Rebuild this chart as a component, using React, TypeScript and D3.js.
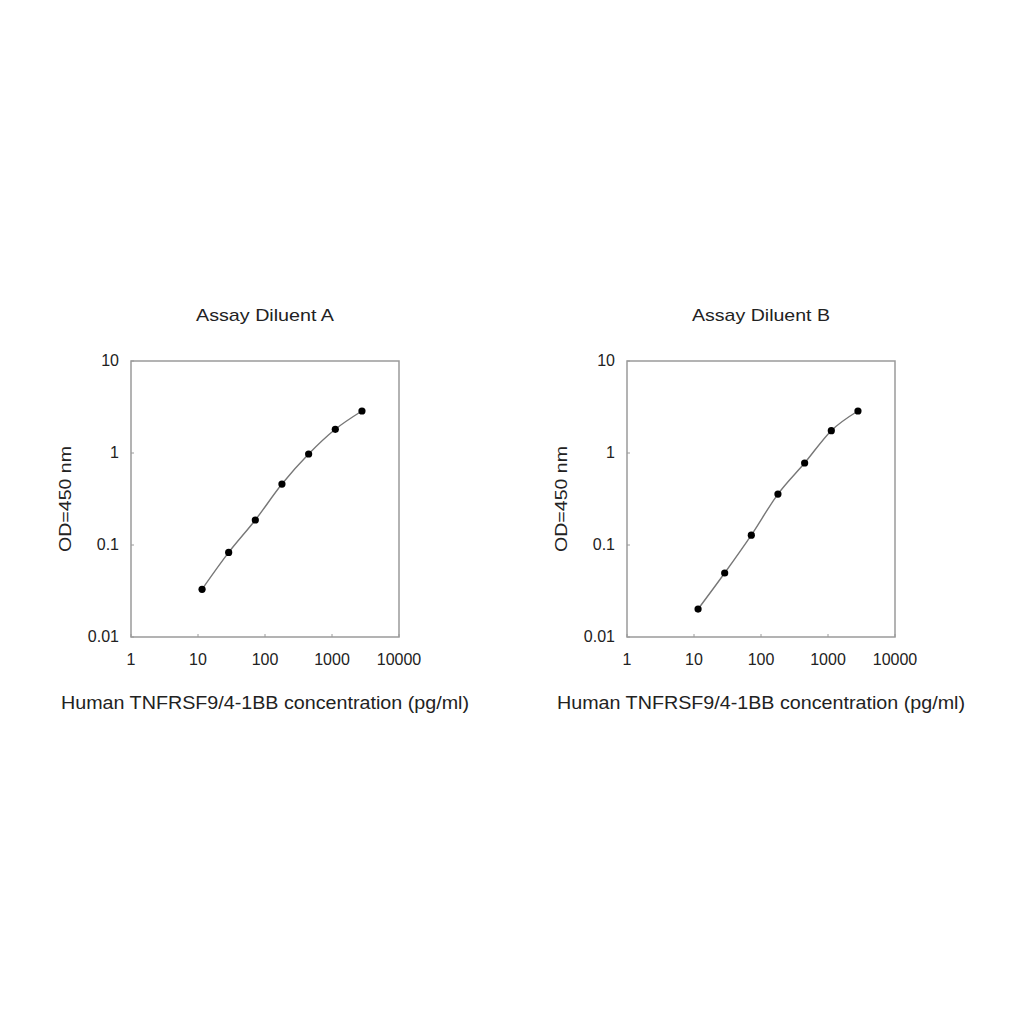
import { useEffect, useRef } from 'react'
import * as d3 from 'd3'

// concentrations (pg/ml), same dilution series in both panels
const concentrations = [11.5, 28.7, 71.7, 179, 448, 1120, 2800]
const odDiluentA = [0.033, 0.083, 0.187, 0.46, 0.975, 1.81, 2.86]
const odDiluentB = [0.0201, 0.0496, 0.128, 0.358, 0.779, 1.75, 2.86]
const panelTitles = ['Assay Diluent A', 'Assay Diluent B']
const xTicks = [1, 10, 100, 1000, 10000]
const yTicks = [0.01, 0.1, 1, 10]
const xAxisLabel = 'Human TNFRSF9/4-1BB concentration (pg/ml)'
const yAxisLabel = 'OD=450 nm'

const panelLefts = [131, 627]
const plotTop = 361
const plotW = 268
const plotH = 276

export default function App() {
	const ref = useRef<SVGSVGElement>(null)

	useEffect(() => {
		const svg = d3.select(ref.current)
		svg.selectAll('*').remove()
		svg.append('rect').attr('width', 1024).attr('height', 1024).attr('fill', '#fff')

		const series = [odDiluentA, odDiluentB]

		series.forEach((od, i) => {
			const g = svg
				.append('g')
				.attr('transform', 'translate(' + panelLefts[i] + ',' + plotTop + ')')
				.style('font-family', 'Liberation Sans, Arial, sans-serif')

			const x = d3.scaleLog().domain([1, 10000]).range([0, plotW])
			const y = d3.scaleLog().domain([0.01, 10]).range([plotH, 0])

			// frame
			g.append('rect')
				.attr('width', plotW)
				.attr('height', plotH)
				.attr('fill', 'none')
				.attr('stroke', '#9a9a9a')
				.attr('stroke-width', 1.5)

			// tick marks
			g.selectAll('.xt')
				.data(xTicks)
				.enter()
				.append('line')
				.attr('x1', (d) => x(d))
				.attr('x2', (d) => x(d))
				.attr('y1', plotH)
				.attr('y2', plotH - 3)
				.attr('stroke', '#9a9a9a')
			g.selectAll('.yt')
				.data(yTicks)
				.enter()
				.append('line')
				.attr('x1', 0)
				.attr('x2', 3)
				.attr('y1', (d) => y(d))
				.attr('y2', (d) => y(d))
				.attr('stroke', '#9a9a9a')

			// tick labels
			g.selectAll('.xl')
				.data(xTicks)
				.enter()
				.append('text')
				.attr('x', (d) => x(d))
				.attr('y', plotH + 28)
				.attr('text-anchor', 'middle')
				.style('font-size', '16px')
				.attr('fill', '#222')
				.text((d) => String(d))
			g.selectAll('.yl')
				.data(yTicks)
				.enter()
				.append('text')
				.attr('x', -12)
				.attr('y', (d) => y(d) + 5)
				.attr('text-anchor', 'end')
				.style('font-size', '16px')
				.attr('fill', '#222')
				.text((d) => String(d))

			// titles (the original text is drawn a bit wider than the font)
			g.append('text')
				.attr('x', plotW / 2)
				.attr('y', -40)
				.attr('text-anchor', 'middle')
				.attr('textLength', 138)
				.attr('lengthAdjust', 'spacingAndGlyphs')
				.style('font-size', '17px')
				.attr('fill', '#222')
				.text(panelTitles[i])
			g.append('text')
				.attr('x', plotW / 2)
				.attr('y', plotH + 72)
				.attr('text-anchor', 'middle')
				.attr('textLength', 408)
				.attr('lengthAdjust', 'spacingAndGlyphs')
				.style('font-size', '17.5px')
				.attr('fill', '#222')
				.text(xAxisLabel)
			g.append('text')
				.attr('transform', 'translate(' + -60 + ',' + plotH / 2 + ') rotate(-90)')
				.attr('text-anchor', 'middle')
				.attr('textLength', 106)
				.attr('lengthAdjust', 'spacingAndGlyphs')
				.style('font-size', '17px')
				.attr('fill', '#222')
				.text(yAxisLabel)

			const pts = concentrations.map((c, k) => [c, od[k]] as [number, number])

			const line = d3
				.line<[number, number]>()
				.x((d) => x(d[0]))
				.y((d) => y(d[1]))
				.curve(d3.curveMonotoneX)

			g.append('path')
				.datum(pts)
				.attr('d', line)
				.attr('fill', 'none')
				.attr('stroke', '#777')
				.attr('stroke-width', 1.4)

			g.selectAll('.pt')
				.data(pts)
				.enter()
				.append('circle')
				.attr('cx', (d) => x(d[0]))
				.attr('cy', (d) => y(d[1]))
				.attr('r', 3.6)
				.attr('fill', '#000')
		})
	}, [])

	return (
		<div style={{ position: 'absolute', left: 0, top: 0 }}>
			<svg ref={ref} width={1024} height={1024} style={{ display: 'block' }} />
		</div>
	)
}
